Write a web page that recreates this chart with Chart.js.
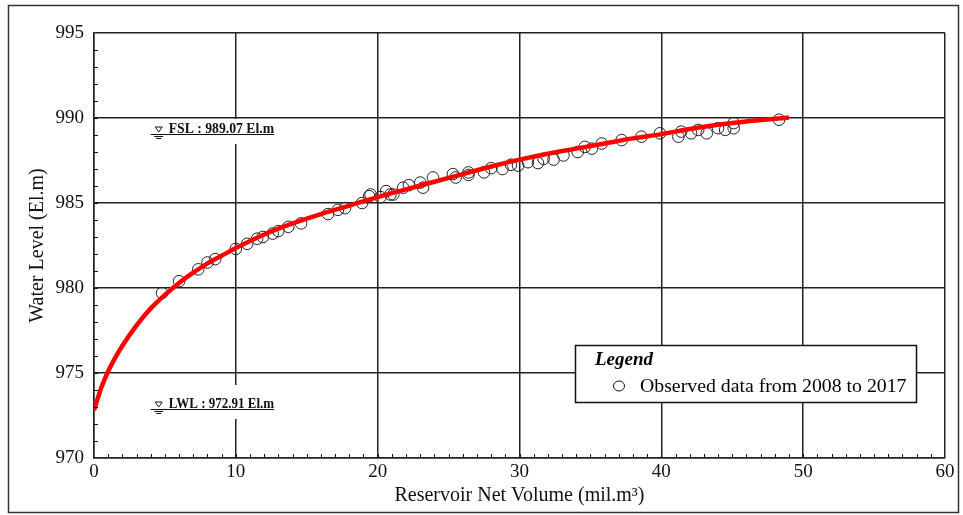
<!DOCTYPE html>
<html>
<head>
<meta charset="utf-8">
<script src="https://cdn.jsdelivr.net/npm/chart.js@4.4.1/dist/chart.umd.min.js"></script>
<style>
  html, body { margin: 0; padding: 0; background: #fff; }
  #wrap { width: 963px; height: 515px; }
</style>
</head>
<body>
<div id="wrap"><canvas id="grafica"></canvas></div>
<script>
// Curva de capacidad (volumen neto vs nivel de agua)
const curveVolume = [0, 0.5, 1, 1.5, 2, 3, 4, 5, 6, 7, 8, 9, 10, 12, 14, 16, 18, 20, 22, 24, 26, 28, 30, 32, 34, 36, 38, 40, 42, 44, 46, 48, 49];
const curveLevel = [972.8, 974.1, 975.1, 975.9, 976.6, 977.8, 978.8, 979.6, 980.3, 980.9, 981.45, 981.9, 982.35, 983.15, 983.8, 984.35, 984.85,
  985.35, 985.8, 986.25, 986.7, 987.15, 987.55, 987.9, 988.2, 988.5, 988.8, 989.05, 989.35, 989.6, 989.8, 989.95, 990.03];

// Datos observados 2008 - 2017
const obsVolume = [4.8, 6.0, 7.35, 8.0, 8.55, 10.0, 10.8, 11.5, 11.9, 12.6, 13.0, 13.7, 14.6, 16.5, 17.2, 17.7, 18.9, 19.4, 19.5, 20.2,
  20.6, 20.9, 21.1, 21.8, 22.2, 23.0, 23.2, 23.9, 25.3, 25.5, 26.4, 26.4, 27.5, 28.0, 28.8, 29.4, 29.9, 30.6, 31.3, 31.7,
  32.4, 33.1, 34.1, 34.6, 35.1, 35.8, 37.2, 38.6, 39.9, 41.2, 41.4, 42.1, 42.6, 43.2, 44.0, 44.5, 45.1, 45.1, 48.3];
const obsLevel = [979.7, 980.4, 981.1, 981.5, 981.7, 982.3, 982.6, 982.9, 983.0, 983.2, 983.35, 983.6, 983.8, 984.35, 984.6, 984.7, 985.0, 985.4, 985.5, 985.35,
  985.7, 985.5, 985.5, 985.9, 986.05, 986.2, 985.9, 986.5, 986.7, 986.5, 986.8, 986.65, 986.8, 987.05, 987.0, 987.25, 987.2, 987.4, 987.35, 987.6,
  987.55, 987.8, 988.0, 988.3, 988.2, 988.5, 988.7, 988.9, 989.1, 988.9, 989.2, 989.1, 989.3, 989.1, 989.4, 989.3, 989.7, 989.4, 989.9];

// Niveles de referencia
const levelMarks = [
  { name: 'FSL', value: 989.07, text: 'FSL : 989.07 El.m', gapTop: 15 },
  { name: 'LWL', value: 972.91, text: 'LWL : 972.91 El.m', gapTop: 24 }
];
const legendTitle = 'Legend';
const legendText = 'Observed data from 2008 to 2017';

const SERIF = '"Liberation Serif", "Times New Roman", serif';

function toPoints(xs, ys) {
  return xs.map((x, i) => ({ x: x, y: ys[i] }));
}

// Plugin para marcos, ticks menores, etiquetas de nivel y leyenda
const extras = {
  id: 'extras',
  beforeDraw(chart) {
    const ctx = chart.ctx;
    ctx.save();
    ctx.fillStyle = '#fff';
    ctx.fillRect(0, 0, chart.width, chart.height);
    ctx.restore();
  },
  afterDraw(chart) {
    const ctx = chart.ctx;
    const xs = chart.scales.x;
    const ys = chart.scales.y;
    const area = chart.chartArea;
    ctx.save();

    // ticks menores hacia adentro
    ctx.strokeStyle = '#111';
    ctx.lineWidth = 1;
    ctx.beginPath();
    for (let v = 1; v < 60; v++) {
      const px = Math.round(xs.getPixelForValue(v)) + 0.5;
      ctx.moveTo(px, area.bottom);
      ctx.lineTo(px, area.bottom - 4);
    }
    for (let v = 971; v < 995; v++) {
      const py = Math.round(ys.getPixelForValue(v)) + 0.5;
      ctx.moveTo(area.left, py);
      ctx.lineTo(area.left + 4, py);
    }
    ctx.stroke();

    // etiquetas FSL / LWL
    const x0 = xs.getPixelForValue(4);
    const x1 = xs.getPixelForValue(12.7);
    levelMarks.forEach(m => {
      const py = Math.round(ys.getPixelForValue(m.value));
      ctx.fillStyle = '#fff';
      ctx.fillRect(x0 - 2, py - m.gapTop, x1 - x0 + 4, m.gapTop + 10);
      ctx.fillStyle = '#111';
      ctx.font = 'bold 12px ' + SERIF;
      ctx.textBaseline = 'alphabetic';
      const tw = ctx.measureText(m.text).width;
      const target = x1 - (x0 + 18);
      ctx.save();
      ctx.translate(x0 + 18, py - 1.5);
      ctx.scale(target / tw, 1.2);
      ctx.fillText(m.text, 0, 0);
      ctx.restore();
      ctx.strokeStyle = '#111';
      ctx.lineWidth = 1.2;
      ctx.beginPath();
      ctx.moveTo(x0, py + 0.5);
      ctx.lineTo(x1, py + 0.5);
      ctx.stroke();
      // simbolo de nivel de agua
      const sx = x0 + 8;
      ctx.lineWidth = 1;
      ctx.beginPath();
      ctx.moveTo(sx - 3.5, py - 7);
      ctx.lineTo(sx + 3.5, py - 7);
      ctx.lineTo(sx, py - 2);
      ctx.closePath();
      ctx.stroke();
      ctx.beginPath();
      ctx.moveTo(sx - 4.5, py + 2.5);
      ctx.lineTo(sx + 4.5, py + 2.5);
      ctx.moveTo(sx - 2.5, py + 4.5);
      ctx.lineTo(sx + 2.5, py + 4.5);
      ctx.stroke();
    });

    // leyenda
    const lx = 575.5, ly = 345.5, lw = 341, lh = 57;
    ctx.fillStyle = '#fff';
    ctx.fillRect(lx, ly, lw, lh);
    ctx.strokeStyle = '#111';
    ctx.lineWidth = 1.5;
    ctx.strokeRect(lx, ly, lw, lh);
    ctx.fillStyle = '#000';
    ctx.font = 'italic bold 19px ' + SERIF;
    ctx.fillText(legendTitle, 595, 365);
    ctx.font = '19.8px ' + SERIF;
    ctx.fillText(legendText, 640, 392);
    ctx.lineWidth = 1;
    ctx.beginPath();
    ctx.ellipse(619, 386, 5.5, 5, 0, 0, Math.PI * 2);
    ctx.stroke();

    // marco exterior
    ctx.strokeStyle = '#333';
    ctx.lineWidth = 1.5;
    ctx.strokeRect(8.5, 5.5, 950, 507);
    ctx.restore();
  }
};

const ctxGrafica = document.getElementById('grafica').getContext('2d');
new Chart(ctxGrafica, {
  type: 'scatter',
  data: {
    datasets: [
      {
        label: 'Capacity curve',
        data: toPoints(curveVolume, curveLevel),
        showLine: true,
        borderColor: '#ff0000',
        borderWidth: 4.5,
        pointRadius: 0,
        cubicInterpolationMode: 'monotone',
        order: 0
      },
      {
        label: legendText,
        data: toPoints(obsVolume, obsLevel),
        showLine: false,
        pointStyle: 'circle',
        pointRadius: 5.8,
        borderColor: '#222',
        borderWidth: 1,
        backgroundColor: 'rgba(0,0,0,0)',
        order: 1
      }
    ]
  },
  options: {
    responsive: true,
    maintainAspectRatio: false,
    animation: false,
    devicePixelRatio: 1,
    layout: { padding: { left: 0, right: 18, top: 33, bottom: 0 } },
    plugins: {
      legend: { display: false },
      tooltip: { enabled: false }
    },
    scales: {
      x: {
        type: 'linear',
        min: 0,
        max: 60,
        afterFit(scale) { scale.height = 57; },
        ticks: {
          stepSize: 10,
          padding: 3,
          color: '#111',
          font: { family: SERIF, size: 19 }
        },
        grid: { color: '#222', lineWidth: 1.5, drawTicks: false },
        border: { color: '#222', width: 1.5 },
        title: {
          display: true,
          text: 'Reservoir Net Volume (mil.m³)',
          color: '#111',
          font: { family: SERIF, size: 20 },
          padding: { top: 0, bottom: 7 }
        }
      },
      y: {
        type: 'linear',
        min: 970,
        max: 995,
        afterFit(scale) { scale.width = 94; },
        ticks: {
          stepSize: 5,
          padding: 10,
          color: '#111',
          font: { family: SERIF, size: 19 }
        },
        grid: { color: '#222', lineWidth: 1.5, drawTicks: false },
        border: { color: '#222', width: 1.5 },
        title: {
          display: true,
          text: 'Water Level (El.m)',
          color: '#111',
          font: { family: SERIF, size: 20 },
          padding: { top: 26, bottom: 0 }
        }
      }
    }
  },
  plugins: [extras]
});
</script>
</body>
</html>
